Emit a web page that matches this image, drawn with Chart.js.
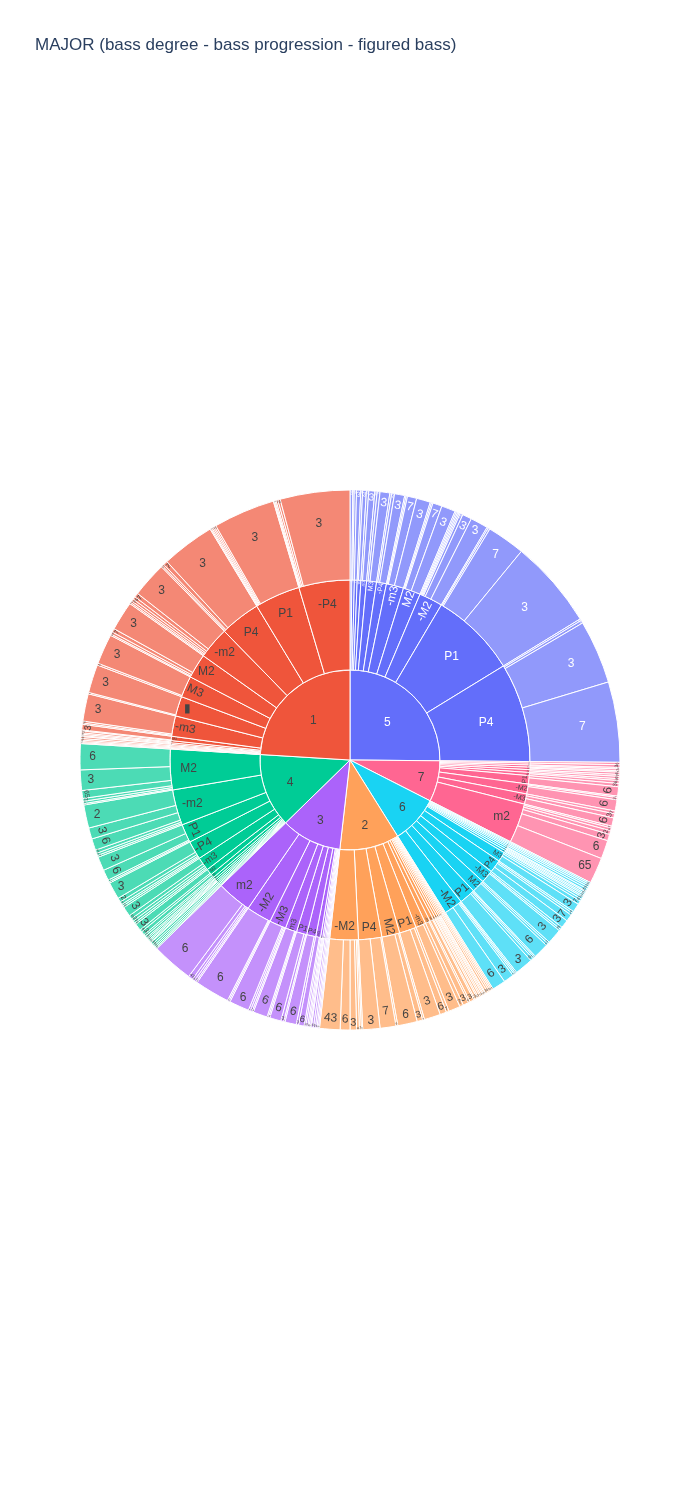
<!DOCTYPE html>
<html><head><meta charset="utf-8">
<script src="https://cdn.jsdelivr.net/npm/chart.js@4.4.0/dist/chart.umd.min.js"></script>
<style>
html,body{margin:0;padding:0;background:#fff;}
#wrap{position:relative;width:700px;height:1500px;}
#title{position:absolute;left:35px;top:36px;font:17px 'Liberation Sans',Arial,sans-serif;color:#2a3f5f;line-height:17px;white-space:nowrap;}
canvas{position:absolute;left:0;top:0;}
</style></head><body>
<div id="wrap"><canvas id="c" width="700" height="1500"></canvas><div id="title">MAJOR (bass degree - bass progression - figured bass)</div></div>
<script>
// ---------- data (clockwise from 12 o'clock) ----------
const degreeLabels = ['5','7','6','2','3','4','1'];
const degreeColors = ['#636efa','#FF6692','#19d3f3','#FFA15A','#ab63fa','#00cc96','#EF553B'];
const degreeTextColors = ['#fff','#444','#444','#444','#444','#444','#444'];

// degree 5
const prog5 = ['A4','-m2','m2','-M3','m3','M3','-P4','-m3','M2','-M2','P1','P4'];
const fig5Labels = [['3'],['6','3'],['3'],['6','3'],['7','3'],['6','65','3'],['6','7','3'],['6','43','7','3'],['6','65','7','3'],['65','43','6','2','7','3','3'],['65','6','7','3'],['6','65','3','7']];
const fig5Values = [[0.6],[0.3,0.5],[0.9],[0.4,0.8],[0.5,1.3],[0.5,0.6,2.1],[0.4,0.6,2.2],[0.3,0.3,2.0,3.0],[0.3,0.3,2.0,3.0],[0.3,0.3,0.3,0.3,0.6,2.0,3.8],[0.3,0.4,8.2,19.1],[0.4,0.6,13.7,17.3]];

// degree 7
const prog7 = ['A4','m3','-P4','M2','-m2','P4','P1','-M2','-M3','m2'];
const fig7Labels = [['6'],['3'],['6','3'],['3','6'],['3','6'],['3','6'],['3','6'],['7','3','6'],['7','3','6'],['7','43','2','3','6','65']];
const fig7Values = [[0.5],[0.6],[0.3,0.4],[0.3,0.5],[0.4,0.5],[0.4,0.6],[0.7,2.0],[0.3,0.5,2.4],[0.6,0.9,1.8],[0.4,0.6,0.8,1.4,4.0,5.6]];

// degree 6
const prog6 = ['A4','-A4','m6','-P5','P5','-m2','m2','-P4','M3','P4','-M3','M2','P1','-M2'];
const fig6Labels = [['6'],['3'],['6'],['3'],['6'],['3','6'],['6','3'],['6','3'],['6','7','3'],['6','65','7','3'],['6','7','3'],['3','43','6'],['43','7','6','3'],['7','43','65','3','6']];
const fig6Values = [[0.3],[0.35],[0.4],[0.45],[0.5],[0.25,0.35],[0.3,0.35],[0.3,0.45],[0.5,0.8,1.85],[0.4,0.5,1.5,1.75],[0.5,0.4,3.25],[0.4,0.5,3.3],[0.3,0.4,0.6,3.95],[0.3,0.3,0.4,2.2,2.9]];

// degree 2
const prog2 = ['A4','-A4','m6','-m6','-P5','m2','-m2','-M3','m3','M3','-P4','-m3','P1','M2','P4','-M2'];
const fig2Labels = [['3'],['6'],['3'],['6'],['3'],['6','3'],['6','3'],['7','3'],['6','3'],['7','3'],['6','3'],['7','3'],['7','6','3'],['43','3','6'],['6','7','3'],['6','7','65','3','6','43']];
const fig2Values = [[0.3],[0.3],[0.35],[0.4],[0.45],[0.2,0.3],[0.25,0.35],[0.3,0.4],[0.3,0.5],[0.3,0.9],[0.4,1.2],[0.8,2.5],[0.6,1.4,3.5],[0.4,1.2,4.2],[0.4,3.4,3.7],[0.3,0.4,0.6,1.4,2.1,4.4]];

// degree 3
const prog3 = ['A4','-A4','m6','-m6','-P5','P5','M2','-m3','P4','P1','m3','-M3','-M2','m2'];
const fig3Labels = [['6'],['3'],['6'],['3'],['6'],['3','6'],['3','6'],['3','6'],['3','6'],['7','3','6'],['3','43','6'],['3','7','65','6'],['43','3','6'],['3','7','65','43','6']];
const fig3Values = [[0.25],[0.3],[0.35],[0.4],[0.45],[0.2,0.3],[0.3,0.4],[0.35,1.2],[0.5,2.45],[0.3,0.6,2.45],[0.3,0.3,3.1],[0.3,0.4,0.4,4.3],[0.3,0.3,7.5],[0.3,0.4,0.5,1.0,9.0]];

// degree 4
const prog4 = ['A4','-A4','m6','-m6','-P5','P5','M3','-M3','m3','-M2','-m3','-P4','P1','-m2','M2'];
const fig4Labels = [['6'],['3'],['6'],['3'],['6'],['3','6'],['6','3'],['7','3'],['2','3'],['6','3'],['6','7','2','43','3'],['6','7','65','2','3'],['7','43','6','3'],['7','43','65','6','3','2'],['7','43','2','65','3','6']];
const fig4Values = [[0.25],[0.3],[0.35],[0.4],[0.45],[0.2,0.3],[0.25,0.35],[0.3,0.45],[0.4,0.8],[0.5,1.5],[0.4,0.5,0.6,0.8,2.1],[0.4,0.4,0.6,0.9,3.7],[0.3,0.4,2.3,3.0],[0.4,0.5,0.7,2.5,2.4,5.0],[0.3,0.5,0.6,1.7,4.4,5.6]];

// degree 1
const prog1 = ['A4','-A4','m6','-m6','-P5','P5','m2','-M3','-m3','▮','M3','M2','-m2','P4','P1','-P4'];
const fig1Labels = [['3'],['6'],['3'],['6'],['3'],['6','3'],['6','3'],['6','3'],['7','6','3'],['6','3'],['6','3'],['6','43','7','3'],['65','43','2','6','7','3'],['6','65','7','3'],['7','65','43','2','6','3'],['43','2','65','7','6','3']];
const fig1Values = [[0.2],[0.25],[0.3],[0.35],[0.4],[0.2,0.3],[0.3,0.4],[0.2,1.2],[0.3,0.4,5.9],[0.3,6.1],[0.4,6.5],[0.3,0.5,0.8,6.3],[0.3,0.4,0.5,0.6,0.9,7.6],[0.3,0.4,0.9,11.5],[0.2,0.25,0.3,0.3,0.35,13.3],[0.15,0.2,0.25,0.4,0.5,15.0]];

const progLists = [prog5, prog7, prog6, prog2, prog3, prog4, prog1];
const figLabelLists = [fig5Labels, fig7Labels, fig6Labels, fig2Labels, fig3Labels, fig4Labels, fig1Labels];
const figValueLists = [fig5Values, fig7Values, fig6Values, fig2Values, fig3Values, fig4Values, fig1Values];

// ---------- build rings ----------
function hexA(hex, a) {
  const n = parseInt(hex.slice(1), 16);
  return `rgba(${(n >> 16) & 255},${(n >> 8) & 255},${n & 255},${a})`;
}
const inner = {labels: [], values: [], colors: [], text: []};
const mid = {labels: [], values: [], colors: [], text: []};
const outer = {labels: [], values: [], colors: [], text: []};
degreeLabels.forEach((d, i) => {
  let dsum = 0;
  progLists[i].forEach((p, j) => {
    let psum = 0;
    figValueLists[i][j].forEach((v, k) => {
      outer.labels.push(figLabelLists[i][j][k]);
      outer.values.push(v);
      outer.colors.push(hexA(degreeColors[i], 0.7));
      outer.text.push(degreeTextColors[i]);
      psum += v;
    });
    mid.labels.push(p); mid.values.push(psum);
    mid.colors.push(degreeColors[i]); mid.text.push(degreeTextColors[i]);
    dsum += psum;
  });
  inner.labels.push(d); inner.values.push(dsum);
  inner.colors.push(degreeColors[i]); inner.text.push(degreeTextColors[i]);
});

// ---------- plotly-like inside text placement ----------
const FONT = "'Liberation Sans', Arial, sans-serif";
const TEXT_H = 15.5;
const TEXTPAD = 3;
function maxHalf(a, half, r, ring) {
  const q = a + 1 / (2 * Math.tan(half));
  return r * Math.min(1 / (Math.sqrt(q * q + 0.5) + q), ring / (Math.sqrt(a * a + ring / 2) + a));
}
function calcRot(t) { return ((t * 180 / Math.PI + 720) % 180 - 90) * Math.PI / 180; }
function fitText(w, h, r1, r0, span, midA) {
  const half = 0.5 * Math.min(Math.PI, span);
  const ring = 1 - r0 / r1;
  const rIns = Math.max(0, Math.min(1 / (1 + 1 / Math.sin(half)), ring / 2));
  const hz = {scale: rIns * r1 * 2 / Math.hypot(w, h), rCenter: 1 - rIns, rotate: 0};
  if (hz.scale >= 1) return hz;
  const all = [hz];
  const r = Math.max(0, r1 - 2 * TEXTPAD);
  let a = w / h, s = maxHalf(a, half, r, ring);
  all.push({scale: s * 2 / h, rCenter: Math.cos(s / r) - a * s / r, rotate: calcRot(midA)});
  a = h / w; s = maxHalf(a, half, r, ring);
  all.push({scale: s * 2 / w, rCenter: Math.cos(s / r) - a * s / r, rotate: calcRot(midA + Math.PI / 2)});
  let best = all[0];
  for (const t of all) if (t.scale > best.scale) best = t;
  return best;
}
const labelPlugin = {
  id: 'sunLabels',
  afterDatasetsDraw(chart) {
    const ctx = chart.ctx;
    chart.data.datasets.forEach((ds, di) => {
      const meta = chart.getDatasetMeta(di);
      meta.data.forEach((arc, j) => {
        const p = arc.getProps(['x', 'y', 'startAngle', 'endAngle', 'innerRadius', 'outerRadius'], true);
        const span = p.endAngle - p.startAngle;
        if (span <= 0) return;
        const text = ds.sliceLabels[j];
        ctx.font = `12px ${FONT}`;
        const w = ctx.measureText(text).width;
        const midA = (p.startAngle + p.endAngle) / 2 + Math.PI / 2;
        const t = fitText(w, TEXT_H, p.outerRadius, p.innerRadius, span, midA);
        const size = 12 * Math.min(1, t.scale);
        if (size < 1) return;
        const rr = t.rCenter * p.outerRadius;
        ctx.save();
        ctx.translate(p.x + rr * Math.sin(midA), p.y - rr * Math.cos(midA));
        ctx.rotate(t.rotate);
        ctx.font = `${size}px ${FONT}`;
        ctx.fillStyle = ds.textColors[j];
        ctx.textAlign = 'center';
        ctx.textBaseline = 'middle';
        ctx.fillText(text, 0, 0);
        ctx.restore();
      });
    });
  }
};

const ringStyle = {borderWidth: 1, borderColor: '#fff', hoverOffset: 0, offset: 0};
new Chart(document.getElementById('c'), {
  type: 'doughnut',
  data: {
    labels: outer.labels,
    datasets: [
      Object.assign({data: outer.values, backgroundColor: outer.colors, sliceLabels: outer.labels, textColors: outer.text}, ringStyle),
      Object.assign({data: mid.values, backgroundColor: mid.colors, sliceLabels: mid.labels, textColors: mid.text}, ringStyle),
      Object.assign({data: inner.values, backgroundColor: inner.colors, sliceLabels: inner.labels, textColors: inner.text}, ringStyle)
    ]
  },
  options: {
    responsive: false,
    animation: false,
    devicePixelRatio: 1,
    cutout: 0,
    radius: 270,
    rotation: 0,
    events: [],
    layout: {padding: {left: 80, right: 80, top: 490, bottom: 470}},
    plugins: {legend: {display: false}, tooltip: {enabled: false}, title: {display: false}}
  },
  plugins: [labelPlugin]
});
</script>
</body></html>
